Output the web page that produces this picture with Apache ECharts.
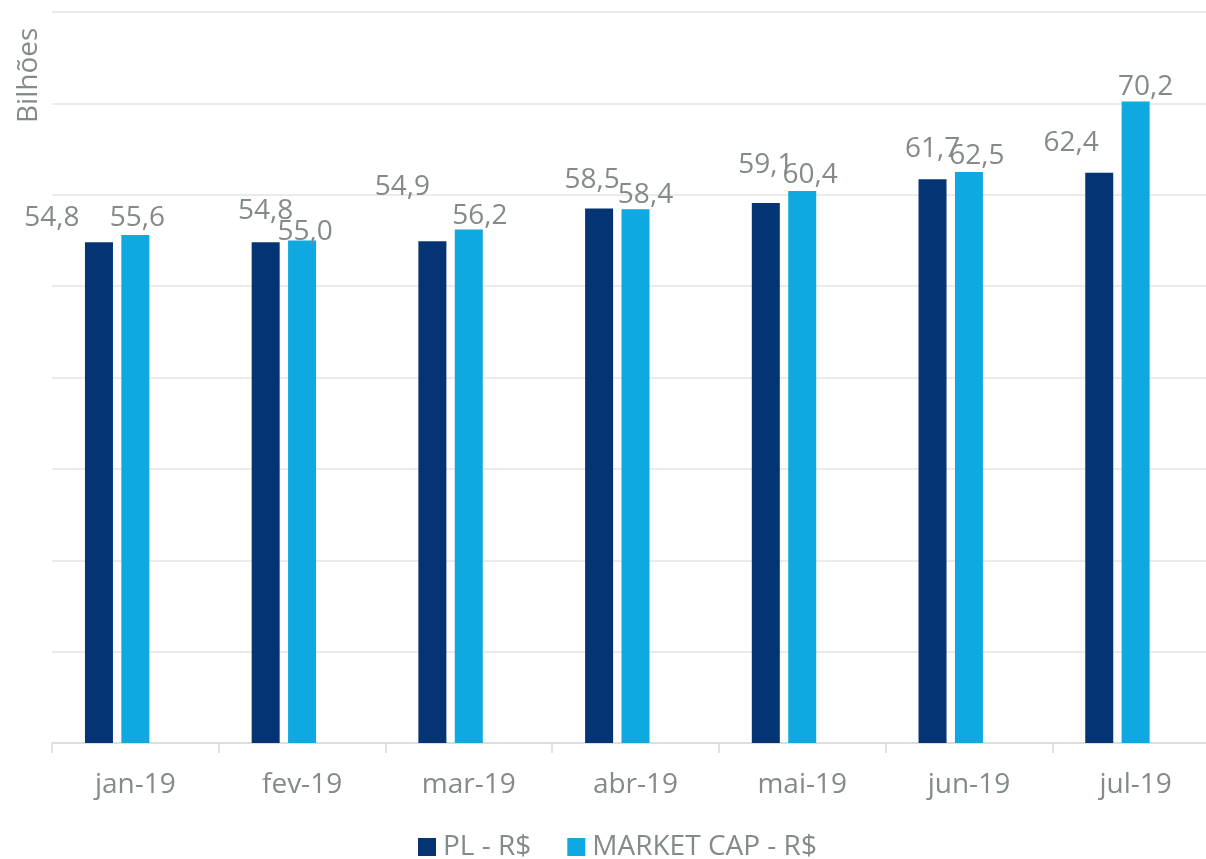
<!DOCTYPE html>
<html>
<head>
<meta charset="utf-8">
<script src="https://cdn.jsdelivr.net/npm/echarts@6/dist/echarts.min.js"></script>
<style>html,body{margin:0;padding:0;background:#fff}#c{width:1206px;height:859px}</style>
</head>
<body>
<div id="c"></div>
<script>
const categories = ['jan-19', 'fev-19', 'mar-19', 'abr-19', 'mai-19', 'jun-19', 'jul-19'];
const plValues = [54.8, 54.8, 54.9, 58.5, 59.1, 61.7, 62.4];
const marketCapValues = [55.6, 55.0, 56.2, 58.4, 60.4, 62.5, 70.2];
const seriesNames = ['PL - R$', 'MARKET CAP - R$'];

// label nudges as placed in the original (style only)
const plLabelShift = [[-47, -7], [0, -14], [-30, -37], [-7, -11], [0, -21], [0, -13], [-28, -13]];
const mcLabelShift = [[2, 0], [3, 9], [11, 4], [10, 3], [8, 1], [8, 1], [10, 2]];

const grey = '#848a8a';
const font = 'Open Sans';
const fmt = p => p.value.toFixed(1).replace('.', ',');

function items(vals, shifts) {
  return vals.map((v, i) => ({ value: v, label: { offset: shifts[i] } }));
}

const chart = echarts.init(document.getElementById('c'), null, { renderer: 'canvas' });
chart.setOption({
  animation: false,
  backgroundColor: '#fff',
  grid: { left: 52, width: 1167, top: 12, bottom: 116, containLabel: false, outerBoundsMode: 'none' },
  graphic: [{
    type: 'text', x: 29, y: 123, rotation: Math.PI / 2,
    style: { text: 'Bilhões', fill: grey, font: '28px "Open Sans"', textAlign: 'left', textVerticalAlign: 'middle' }
  }],
  legend: {
    data: seriesNames, left: 413, top: 828,
    itemWidth: 18, itemHeight: 18, itemGap: 36, icon: 'rect',
    textStyle: { color: grey, fontSize: 28, fontFamily: font, padding: [0, 0, 0, 2] }
  },
  xAxis: {
    type: 'category', data: categories,
    axisLine: { lineStyle: { color: '#d9d9d9', width: 1.5 } },
    axisTick: { show: true, length: 10, lineStyle: { color: '#d9d9d9', width: 1.5 } },
    axisLabel: { color: grey, fontSize: 28, fontFamily: font, margin: 28 }
  },
  yAxis: {
    type: 'value', min: 0, max: 80, interval: 10,
    axisLine: { show: false }, axisTick: { show: false }, axisLabel: { show: false },
    splitLine: { lineStyle: { color: '#e4e4e4', width: 1.5 } }
  },
  series: [
    {
      name: seriesNames[0], type: 'bar', data: items(plValues, plLabelShift),
      barWidth: 28, barGap: '30%', itemStyle: { color: '#043473' },
      label: { show: true, position: 'top', distance: 3, formatter: fmt, color: grey, fontSize: 28, fontFamily: font }
    },
    {
      name: seriesNames[1], type: 'bar', data: items(marketCapValues, mcLabelShift),
      barWidth: 28, barGap: '30%', itemStyle: { color: '#0DA9E0' },
      label: { show: true, position: 'top', distance: 3, formatter: fmt, color: grey, fontSize: 28, fontFamily: font }
    },
    {
      name: 'spacer', type: 'bar', data: categories.map(() => null),
      barWidth: 28, barGap: '30%', itemStyle: { color: '#cfeaf6' }
    }
  ]
});
</script>
</body>
</html>
